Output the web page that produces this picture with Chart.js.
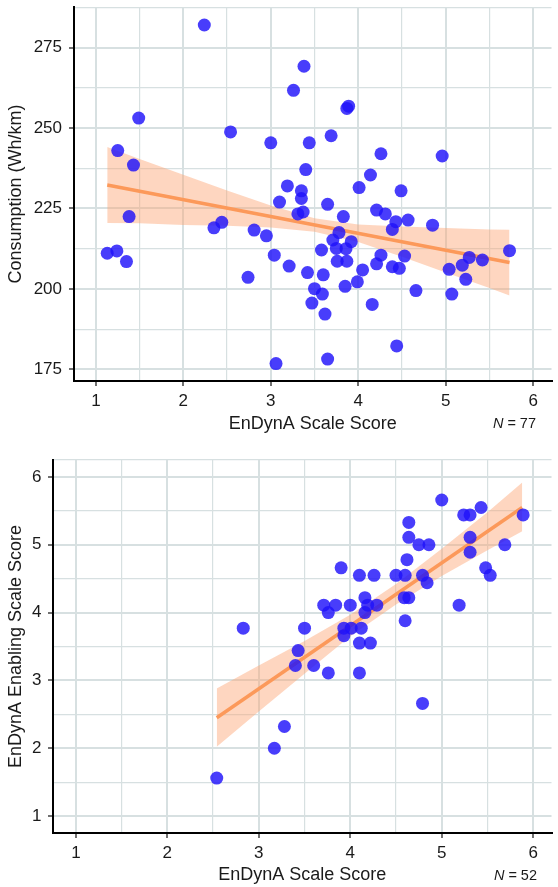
<!DOCTYPE html>
<html lang="en">
<head>
<meta charset="UTF-8">
<title>EnDynA Scale Score</title>
<script src="https://cdn.jsdelivr.net/npm/chart.js"></script>
<style>
    body { margin: 0; background: #fff; }
    canvas { display: block; }
</style>
</head>
<body>
<canvas id="consumo" width="558" height="440"></canvas>
<canvas id="enabling" width="558" height="447"></canvas>
<script>
// --- dados: painel de cima (consumo) ---
const scoreTop = [2.24, 1.49, 2.54, 3.00, 1.25, 1.43, 3.38, 3.26, 3.89, 3.87,
    3.69, 3.44, 4.26, 4.96, 3.40, 4.14, 4.01, 4.49, 3.19, 3.35,
    3.35, 3.10, 3.65, 3.37, 3.31, 4.21, 4.31, 3.83, 4.43, 4.39,
    4.57, 4.85, 2.81, 2.95, 3.78, 3.71, 3.92, 3.58, 3.75, 3.86,
    3.04, 3.76, 3.87, 4.26, 4.21, 4.39, 4.47, 4.53, 3.21, 3.42,
    3.60, 4.05, 3.99, 3.85, 2.74, 3.50, 3.59, 3.47, 3.62, 4.16,
    4.66, 4.44, 3.06, 3.65, 1.38, 1.13, 1.24, 1.35, 2.35, 2.44,
    5.73, 5.42, 5.27, 5.19, 5.04, 5.23, 5.07];
const consumption = [282.0, 253.1, 248.8, 245.4, 243.0, 238.5, 269.2, 261.7, 256.8, 256.1,
    247.6, 245.4, 242.0, 241.3, 237.1, 235.4, 231.5, 230.5, 232.0, 230.5,
    228.1, 227.0, 226.3, 223.9, 223.3, 224.5, 223.3, 222.5, 220.9, 218.5,
    221.4, 219.8, 218.3, 216.5, 217.5, 215.2, 214.7, 212.1, 212.6, 212.5,
    210.5, 208.6, 208.6, 210.5, 207.8, 206.9, 206.4, 210.2, 207.1, 205.1,
    204.4, 205.9, 202.2, 200.8, 203.6, 200.1, 198.4, 195.6, 192.2, 195.2,
    199.5, 182.3, 176.8, 178.2, 222.5, 211.1, 211.8, 208.5, 219.0, 220.7,
    211.9, 209.0, 209.8, 207.4, 206.1, 203.0, 198.4];
// reta de regressao e intervalo de confianca
const fitTopX = [1.13, 5.73];
const fitTopY = [232.3, 208.2];
const bandTopX = [1.13, 1.5, 2, 2.5, 3, 3.5, 4, 4.5, 5, 5.5, 5.73];
const bandTopLo = [220.5, 220.4, 219.9, 219.6, 219.1, 217.8, 214.6, 210.0, 205.1, 200.3, 198.0];
const bandTopHi = [244.1, 240.4, 235.5, 230.6, 225.9, 222.0, 220.0, 219.4, 218.9, 218.5, 218.4];

// --- dados: painel de baixo (enabling) ---
const scoreBottom = [2.83, 2.54, 3.17, 3.28, 4.79, 3.40, 3.60, 3.76, 4.10, 5.00,
    5.24, 5.31, 5.43, 5.89, 4.64, 4.64, 5.31, 4.75, 4.86, 5.31,
    5.69, 4.62, 5.48, 5.53, 3.90, 4.10, 4.26, 4.50, 4.60, 4.79,
    4.84, 4.16, 4.19, 4.29, 4.16, 4.59, 4.64, 5.19, 3.71, 3.84,
    3.76, 4.00, 4.60, 3.50, 3.93, 4.01, 3.93, 4.12, 4.10, 4.22,
    3.43];
const enabling = [3.77, 1.56, 2.00, 2.32, 2.66, 3.22, 3.22, 3.11, 3.11, 5.66,
    5.44, 5.44, 5.55, 5.44, 5.33, 5.11, 5.11, 5.00, 5.00, 4.89,
    5.00, 4.78, 4.66, 4.55, 4.66, 4.55, 4.55, 4.55, 4.55, 4.55,
    4.44, 4.22, 4.11, 4.11, 4.00, 4.22, 4.22, 4.11, 4.11, 4.11,
    4.00, 4.11, 3.88, 3.77, 3.77, 3.77, 3.66, 3.77, 3.55, 3.55,
    3.44];
const fitBotX = [2.54, 5.88];
const fitBotY = [2.45, 5.55];
const bandBotX = [2.54, 3, 3.5, 4, 4.5, 5, 5.5, 5.88];
const bandBotLo = [2.02, 2.54, 3.10, 3.65, 4.12, 4.54, 4.92, 5.20];
const bandBotHi = [2.88, 3.22, 3.58, 3.97, 4.42, 4.94, 5.48, 5.92];

// ticks (major com rotulo, minor so linha)
const scoreMajor = [1, 2, 3, 4, 5, 6];
const scoreMinor = [1.5, 2.5, 3.5, 4.5, 5.5];
const consMajor = [175, 200, 225, 250, 275];
const consMinor = [187.5, 212.5, 237.5, 262.5, 287.5];
const enabMajor = [1, 2, 3, 4, 5, 6];
const enabMinor = [1.5, 2.5, 3.5, 4.5, 5.5, 6.25];

const fonte = '"Liberation Sans", Arial, sans-serif';
const corGrade = '#d7e0e1';
const corPonto = 'rgba(32, 18, 250, 0.82)';
const corReta = '#fc995a';
const corFaixa = 'rgba(252, 165, 115, 0.45)';

function pares(xs, ys) {
    return xs.map((x, i) => ({ x: x, y: ys[i] }));
}

function eixo(major, minor, min, max, titulo, extra) {
    const todos = major.concat(minor).sort((a, b) => a - b);
    const base = {
        type: 'linear',
        min: min,
        max: max,
        afterBuildTicks: (ax) => { ax.ticks = todos.map(v => ({ value: v })); },
        border: { display: true, color: '#000', width: 2 },
        grid: {
            color: corGrade,
            lineWidth: (c) => (c.tick && major.includes(c.tick.value)) ? 2 : 1.2,
            tickColor: (c) => (c.tick && major.includes(c.tick.value)) ? '#222' : 'rgba(0,0,0,0)',
            tickLength: 5,
            tickWidth: 1.3
        },
        ticks: {
            autoSkip: false,
            color: '#1a1a1a',
            padding: 5,
            font: { family: fonte, size: 17 },
            callback: (v) => major.includes(v) ? v : ''
        },
        title: {
            display: true,
            text: titulo,
            color: '#1a1a1a',
            font: { family: fonte, size: 18 }
        }
    };
    if (extra.ticks) Object.assign(base.ticks, extra.ticks);
    if (extra.title) Object.assign(base.title, extra.title);
    base.afterFit = extra.afterFit;
    return base;
}

// "N = xx" no canto de baixo
const rotuloN = {
    id: 'rotuloN',
    afterDraw(chart, args, opts) {
        const ctx = chart.ctx;
        ctx.save();
        ctx.fillStyle = '#1a1a1a';
        ctx.textBaseline = 'middle';
        ctx.textAlign = 'left';
        ctx.font = '14.5px ' + fonte;
        const resto = ' = ' + opts.n;
        const wResto = ctx.measureText(resto).width;
        ctx.font = 'italic 14.5px ' + fonte;
        const wN = ctx.measureText('N').width;
        const x0 = opts.x - wResto - wN;
        ctx.fillText('N', x0, opts.y);
        ctx.font = '14.5px ' + fonte;
        ctx.fillText(resto, x0 + wN, opts.y);
        ctx.restore();
    }
};

function datasets(px, py, fx, fy, bx, blo, bhi) {
    return [
        {
            type: 'scatter',
            data: pares(px, py),
            backgroundColor: corPonto,
            borderWidth: 0,
            pointRadius: 6.5,
            pointHoverRadius: 6.5,
            order: 0
        },
        {
            type: 'line',
            data: pares(fx, fy),
            borderColor: corReta,
            borderWidth: 3.5,
            pointRadius: 0,
            fill: false,
            order: 1
        },
        {
            type: 'line',
            data: pares(bx, blo),
            borderWidth: 0,
            borderColor: 'rgba(0,0,0,0)',
            pointRadius: 0,
            fill: false,
            order: 3
        },
        {
            type: 'line',
            data: pares(bx, bhi),
            borderWidth: 0,
            borderColor: 'rgba(0,0,0,0)',
            backgroundColor: corFaixa,
            pointRadius: 0,
            fill: '-1',
            order: 2
        }
    ];
}

const comum = {
    responsive: false,
    animation: false,
    plugins: { legend: { display: false }, tooltip: { enabled: false } },
    events: []
};

new Chart(document.getElementById('consumo'), {
    type: 'scatter',
    data: { datasets: datasets(scoreTop, consumption, fitTopX, fitTopY, bandTopX, bandTopLo, bandTopHi) },
    options: Object.assign({}, comum, {
        layout: { padding: { top: 7, right: 0, left: 0, bottom: 0 } },
        plugins: Object.assign({}, comum.plugins, { rotuloN: { n: 77, x: 536, y: 424 } }),
        scales: {
            x: eixo(scoreMajor, scoreMinor, 0.75, 6.21, 'EnDynA Scale Score', {
                ticks: { padding: 5.5 },
                title: { padding: { top: 4, bottom: 5 } },
                afterFit: (s) => { s.height = 59; s.paddingLeft = 0; s.paddingRight = 0; }
            }),
            y: eixo(consMajor, consMinor, 171.4, 287.6, 'Consumption (Wh/km)', {
                ticks: { padding: 7 },
                title: { padding: { top: 5, bottom: 4 } },
                afterFit: (s) => { s.width = 74; s.paddingTop = 0; s.paddingBottom = 0; }
            })
        }
    }),
    plugins: [rotuloN]
});

new Chart(document.getElementById('enabling'), {
    type: 'scatter',
    data: { datasets: datasets(scoreBottom, enabling, fitBotX, fitBotY, bandBotX, bandBotLo, bandBotHi) },
    options: Object.assign({}, comum, {
        layout: { padding: { top: 20, right: 0, left: 0, bottom: 0 } },
        plugins: Object.assign({}, comum.plugins, { rotuloN: { n: 52, x: 537, y: 436 } }),
        scales: {
            x: eixo(scoreMajor, scoreMinor, 0.75, 6.2, 'EnDynA Scale Score', {
                ticks: { padding: 5.5 },
                title: { padding: { top: 4, bottom: 1.5 } },
                afterFit: (s) => { s.height = 54; s.paddingLeft = 0; s.paddingRight = 0; }
            }),
            y: eixo(enabMajor, enabMinor, 0.75, 6.25, 'EnDynA Enabling Scale Score', {
                ticks: { padding: 6.5 },
                title: { padding: { top: 5, bottom: 4 } },
                afterFit: (s) => { s.width = 53; s.paddingTop = 0; s.paddingBottom = 0; }
            })
        }
    }),
    plugins: [rotuloN]
});
</script>
</body>
</html>
